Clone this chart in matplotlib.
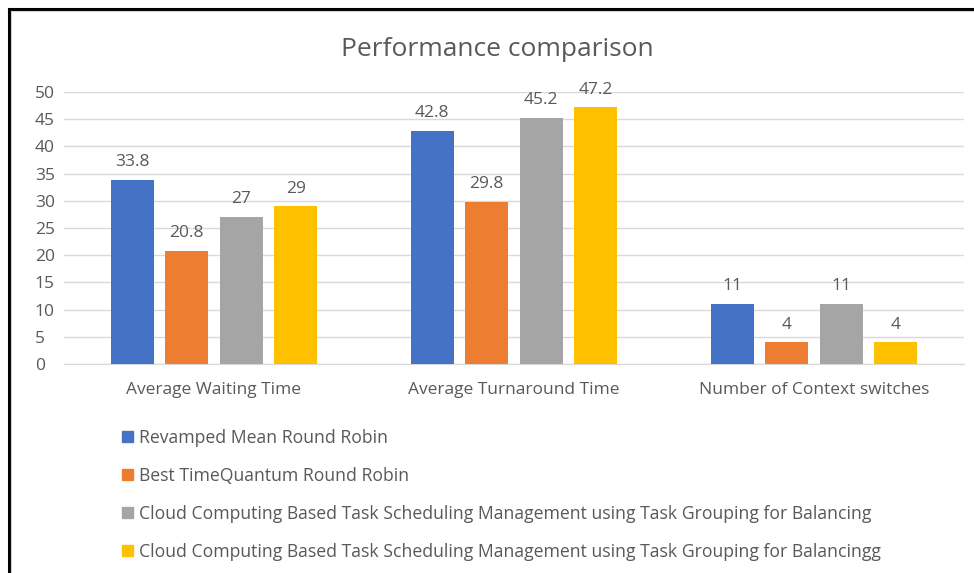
import matplotlib.pyplot as plt
import matplotlib.patches as mpatches
import numpy as np

categories = ["Average Waiting Time", "Average Turnaround Time", "Number of Context switches"]
series_names = [
    "Revamped Mean Round Robin",
    "Best TimeQuantum Round Robin",
    "Cloud Computing Based Task Scheduling Management using Task Grouping for Balancing",
    "Cloud Computing Based Task Scheduling Management using Task Grouping for Balancingg",
]
rmrr = [33.8, 42.8, 11]
btqrr = [20.8, 29.8, 4]
ccbts = [27, 45.2, 11]
ccbts_g = [29, 47.2, 4]
colors = ["#4472C4", "#ED7D31", "#A5A5A5", "#FFC000"]

plt.rcParams['font.family'] = ['Open Sans', 'DejaVu Sans']
txt = "#595959"

fig = plt.figure(figsize=(9.74, 5.73), dpi=100)
ax = fig.add_axes([64 / 974, 1 - 364 / 573, 900 / 974, 272 / 573])

x = np.arange(len(categories))
w = 0.143
step = 0.182
for i, (vals, c) in enumerate(zip([rmrr, btqrr, ccbts, ccbts_g], colors)):
    pos = x + (i - 1.5) * step
    bars = ax.bar(pos, vals, w, color=c, label=series_names[i], zorder=3)
    for b, v in zip(bars, vals):
        ax.annotate("{:g}".format(v), (b.get_x() + b.get_width() / 2, v),
                    xytext=(0, 7), textcoords="offset points",
                    ha="center", va="bottom", fontsize=12.5, color=txt)

ax.set_xlim(-0.5, 2.5)
ax.set_ylim(0, 50)
ax.set_yticks(range(0, 51, 5))
ax.set_xticks(x)
ax.set_xticklabels(categories)
ax.tick_params(length=0, labelsize=12.5, colors=txt)
ax.tick_params(axis='x', pad=13)
ax.tick_params(axis='y', pad=21)
for lab in ax.get_yticklabels():
    lab.set_horizontalalignment('left')
ax.grid(axis='y', color="#d9d9d9", linewidth=1, zorder=0)
for s in ["top", "right", "left"]:
    ax.spines[s].set_visible(False)
ax.spines["bottom"].set_color("#d9d9d9")

fig.text(497 / 974, 1 - 49 / 573, "Performance comparison", ha="center", va="center",
         fontsize=19, color=txt)

handles = [mpatches.Patch(color=c) for c in colors]
leg = fig.legend(handles, series_names, loc="upper left",
                 bbox_to_anchor=(113 / 974, 1 - 420 / 573), frameon=False,
                 fontsize=12.7, labelcolor=txt, handlelength=0.62, handleheight=0.62,
                 handletextpad=0.35, labelspacing=1.13, borderpad=0)

# frame lines from the screenshot
fig.add_artist(plt.Line2D([9 / 974, 9 / 974], [0, 1 - 9 / 573], color="black", lw=2.2))
fig.add_artist(plt.Line2D([9 / 974, 1], [1 - 9 / 573, 1 - 9 / 573], color="black", lw=2.2))
fig.add_artist(plt.Line2D([11 / 974, 11 / 974], [0, 1 - 11 / 573], color="#d0d0d0", lw=0.8))
fig.add_artist(plt.Line2D([11 / 974, 1], [1 - 11 / 573, 1 - 11 / 573], color="#d0d0d0", lw=0.8))

fig.savefig("out.png", dpi=100)
